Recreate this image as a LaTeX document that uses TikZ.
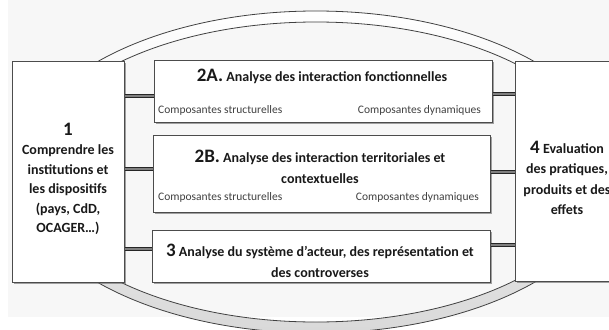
\documentclass[tikz,border=0pt]{standalone}
\usepackage{fontspec}
\setmainfont{Carlito}
\usetikzlibrary{shadows,calc}
\begin{document}
\begin{tikzpicture}[x=1pt,y=-1pt,
  box/.style={draw=black!70, line width=1pt, fill=white, drop shadow={shadow xshift=1.5pt, shadow yshift=-1.5pt, fill=black!60, opacity=0.6}, inner sep=0pt, anchor=north west},
  link/.style={draw=black!85, line width=0.9pt, double=black!50, double distance=1.4pt},
  ring/.style={draw=black!75, line width=0.8pt},
  ttl/.style={font=\bfseries\fontsize{14}{20.5}\selectfont, text=black!90, align=center, inner sep=0pt},
  big/.style={font=\bfseries\fontsize{19}{19}\selectfont, text=black!90, inner sep=0pt},
  sub/.style={font=\fontsize{11.5}{13}\selectfont, text=black!75, inner sep=0pt},
]
\useasboundingbox (0,0) rectangle (609,329);
\clip (0,0) rectangle (609,329);
\fill[black!3] (8,0) rectangle (609,317);
\shade[top color=white, bottom color=black!15, even odd rule] (316,172) ellipse [x radius=300, y radius=161] (316,172) ellipse [x radius=288, y radius=150];
\draw[ring] (316,172) ellipse [x radius=300, y radius=161];
\draw[ring] (316,172) ellipse [x radius=288, y radius=150];

\node[box, minimum width=112pt, minimum height=221pt] (b1) at (12,61) {};
\node[box, minimum width=338pt, minimum height=62pt] (b2a) at (154,60) {};
\node[box, minimum width=337pt, minimum height=77pt] (b2b) at (153,135) {};
\node[box, minimum width=338pt, minimum height=52pt] (b3) at (152,230) {};
\node[box, minimum width=110pt, minimum height=220pt] (b4) at (515,61) {};

\coordinate (l2a) at (0,96);
\coordinate (l2b) at (0,169);
\coordinate (l3) at (0,249);
\coordinate (r2a) at (0,94);
\coordinate (r2b) at (0,172);
\coordinate (r3) at (0,245);
\draw[link] (b1.east |- l2a) -- (b2a.west |- l2a);
\draw[link] (b1.east |- l2b) -- (b2b.west |- l2b);
\draw[link] (b1.east |- l3) -- (b3.west |- l3);
\draw[link] (b2a.east |- r2a) -- (b4.west |- r2a);
\draw[link] (b2b.east |- r2b) -- (b4.west |- r2b);
\draw[link] (b3.east |- r3) -- (b4.west |- r3);

\node[big] (n1) at (68,129) {1};
\node[ttl, font=\bfseries\fontsize{14}{19.5}\selectfont] (t1) at (68,190) {Comprendre les\\institutions et\\les dispositifs\\(pays, CdD,\\OCAGER…)};

\node[ttl] (t2a) at (322,76) {{\fontsize{19}{19}\selectfont 2A.} Analyse des interaction fonctionnelles};
\node[sub, anchor=west] (s2a1) at (158,110) {Composantes structurelles};
\node[sub, anchor=east] (s2a2) at (481,110) {Composantes dynamiques};

\node[ttl] (t2b) at (320,167) {{\fontsize{19}{19}\selectfont 2B.} Analyse des interaction territoriales et\\contextuelles};
\node[sub, anchor=west] (s2b1) at (158,197) {Composantes structurelles};
\node[sub, anchor=east] (s2b2) at (479,197) {Composantes dynamiques};

\node[ttl] (t3) at (320,261) {{\fontsize{19}{19}\selectfont 3} Analyse du système d’acteur, des représentation et\\des controverses};

\node[ttl] (t4) at (567,178) {{\fontsize{19}{19}\selectfont 4} Evaluation\\des pratiques,\\produits et des\\effets};
\end{tikzpicture}
\end{document}
